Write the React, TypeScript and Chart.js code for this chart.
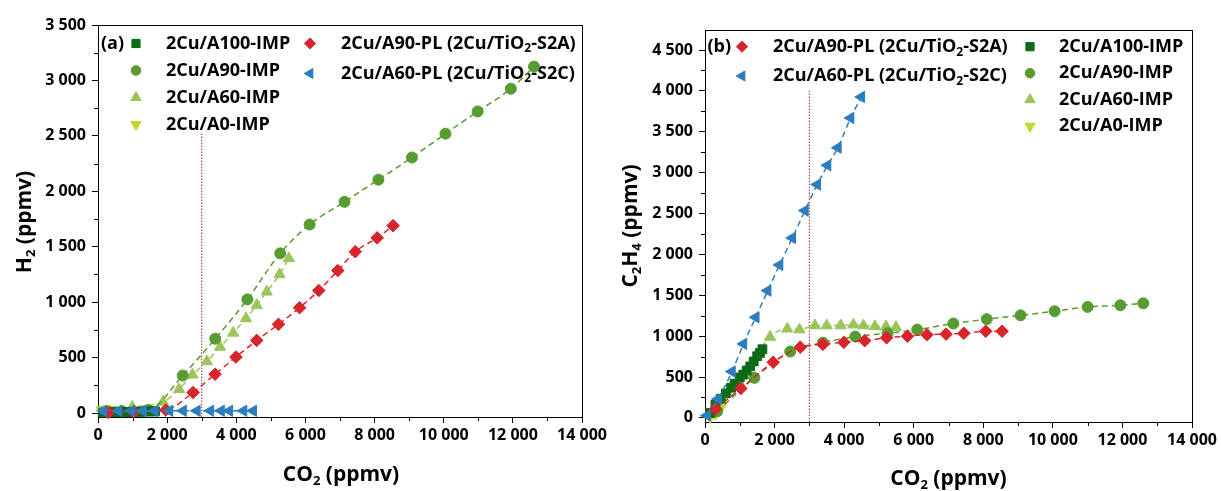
import React, { useEffect, useRef } from 'react';
import { Chart, registerables } from 'chart.js';
import { drawPoint } from 'chart.js/helpers';

Chart.register(...registerables);

// ---------------- data ----------------
const seriesLabels = [
  '2Cu/A100-IMP',
  '2Cu/A90-IMP',
  '2Cu/A60-IMP',
  '2Cu/A0-IMP',
  '2Cu/A90-PL (2Cu/TiO₂-S2A)',
  '2Cu/A60-PL (2Cu/TiO₂-S2C)',
];

const xTickValues = [0, 2000, 4000, 6000, 8000, 10000, 12000, 14000];
const h2TickValues = [0, 500, 1000, 1500, 2000, 2500, 3000, 3500];
const c2h4TickValues = [0, 500, 1000, 1500, 2000, 2500, 3000, 3500, 4000, 4500];

const xTitle = 'CO₂ (ppmv)';
const h2Title = 'H₂ (ppmv)';
const c2h4Title = 'C₂H₄ (ppmv)';
const cutoffCO2 = 3000;
const h2CutoffTop = 2520;
const c2h4CutoffTop = 4000;

// panel (a): H2 vs CO2
const a100X_H2 = [150, 300, 450, 600, 750, 900, 1000, 1100, 1200, 1300, 1400, 1500, 1580, 1650];
const a100Y_H2 = [5, 5, 8, 8, 10, 10, 10, 12, 12, 12, 15, 15, 15, 15];
const a90X_H2 = [300, 700, 1450, 2450, 3390, 4320, 5270, 6120, 7130, 8110, 9080, 10050, 10980, 11940, 12610];
const a90Y_H2 = [10, 15, 27, 338, 670, 1025, 1440, 1700, 1905, 2105, 2305, 2520, 2720, 2925, 3125];
const a60X_H2 = [300, 990, 1880, 2345, 2730, 3150, 3530, 3910, 4280, 4590, 4880, 5250, 5520];
const a60Y_H2 = [15, 55, 100, 215, 345, 465, 595, 722, 852, 973, 1093, 1250, 1395];
const a0X_H2 = [100, 250, 400];
const a0Y_H2 = [30, 35, 30];
const plA90X_H2 = [300, 1030, 1960, 2750, 3385, 3990, 4590, 5220, 5830, 6385, 6935, 7440, 8075, 8535];
const plA90Y_H2 = [5, 10, 27, 185, 350, 505, 655, 800, 950, 1105, 1285, 1455, 1580, 1690];
const plA60X_H2 = [150, 590, 970, 1300, 1640, 2070, 2460, 2860, 3250, 3560, 3800, 4210, 4490];
const plA60Y_H2 = [20, 20, 20, 20, 20, 20, 20, 20, 20, 20, 20, 20, 20];

// panel (b): C2H4 vs CO2
const a100X_C2H4 = [150, 300, 450, 600, 750, 850, 1000, 1100, 1200, 1300, 1400, 1500, 1580, 1650];
const a100Y_C2H4 = [60, 160, 235, 300, 370, 420, 495, 530, 580, 630, 690, 755, 795, 840];
const a90X_C2H4 = [350, 1420, 2450, 3390, 4320, 5250, 6100, 7140, 8100, 9070, 10050, 11000, 11940, 12600];
const a90Y_C2H4 = [80, 490, 812, 920, 995, 1035, 1080, 1155, 1208, 1255, 1305, 1358, 1378, 1402];
const a60X_C2H4 = [300, 990, 1870, 2365, 2715, 3160, 3500, 3900, 4265, 4555, 4885, 5205, 5490];
const a60Y_C2H4 = [70, 430, 990, 1090, 1080, 1130, 1130, 1130, 1140, 1130, 1120, 1118, 1110];
const a0X_C2H4 = [150, 300, 450];
const a0Y_C2H4 = [10, 50, 120];
const plA90X_C2H4 = [300, 1030, 1960, 2740, 3390, 3990, 4590, 5220, 5820, 6380, 6930, 7440, 8070, 8540];
const plA90Y_C2H4 = [110, 360, 680, 865, 900, 925, 945, 980, 1000, 1018, 1025, 1035, 1060, 1060];
const plA60X_C2H4 = [60, 376, 775, 1106, 1459, 1802, 2144, 2509, 2873, 3227, 3523, 3820, 4185, 4493];
const plA60Y_C2H4 = [30, 232, 567, 905, 1231, 1557, 1871, 2201, 2536, 2854, 3090, 3306, 3669, 3926];

// ---------------- styles ----------------
const FONT = '"Open Sans", "DejaVu Sans", sans-serif';
const TICK_SIZE = 16;
const LEGEND_SIZE = 18;
const TITLE_SIZE = 21;
const seriesColors = ['#0c6b14', '#579b31', '#9dc45c', '#c6d631', '#d8242b', '#2b7dc0'];
const seriesStyles = [
  { pointStyle: 'rect', rotation: 0, radius: 6.2, legendRadius: 5.8, order: 3 },
  { pointStyle: 'circle', rotation: 0, radius: 5.5, legendRadius: 4.8, order: 4 },
  { pointStyle: 'triangle', rotation: 0, radius: 6.5, legendRadius: 6, order: 5 },
  { pointStyle: 'triangle', rotation: 180, radius: 6.5, legendRadius: 6, order: 6 },
  { pointStyle: 'rectRot', rotation: 0, radius: 6.3, legendRadius: 5.6, order: 2 },
  { pointStyle: 'triangle', rotation: -90, radius: 6.5, legendRadius: 5.8, order: 1 },
];

const fmt = (v: number) => {
  if (Math.abs(v) < 1000) return String(v);
  const th = Math.floor(v / 1000);
  const rest = v % 1000;
  return `${th} ${String(rest).padStart(3, '0')}`;
};

type Part = { t: string; sub: boolean };
function splitRich(s: string): Part[] {
  const parts: Part[] = [];
  for (const ch of s) {
    const sub = ch === '₂' || ch === '₄';
    const t = ch === '₂' ? '2' : ch === '₄' ? '4' : ch;
    const last = parts[parts.length - 1];
    if (last && last.sub === sub) last.t += t;
    else parts.push({ t, sub });
  }
  return parts;
}

function drawRich(ctx: CanvasRenderingContext2D, s: string, x: number, y: number, size: number, align: 'left' | 'center') {
  const parts = splitRich(s);
  const fN = `bold ${size}px ${FONT}`;
  const fS = `bold ${Math.round(size * 0.64)}px ${FONT}`;
  let total = 0;
  const widths = parts.map((p) => {
    ctx.font = p.sub ? fS : fN;
    const w = ctx.measureText(p.t).width;
    total += w;
    return w;
  });
  let cx = align === 'center' ? x - total / 2 : x;
  ctx.textBaseline = 'middle';
  ctx.textAlign = 'left';
  parts.forEach((p, i) => {
    ctx.font = p.sub ? fS : fN;
    ctx.fillText(p.t, cx, p.sub ? y + size * 0.3 : y);
    cx += widths[i];
  });
}

type LegendItem = { s: number; mx: number; tx: number; y: number };
type Panel = {
  xs: number[][];
  ys: number[][];
  yMin: number;
  yMax: number;
  yTicks: number[];
  cutoffTop: number;
  yTitle: string;
  tag: string;
  pad: { top: number; right: number };
  yWidth: number;
  xHeight: number;
  yTitlePos: [number, number];
  xTitlePos: [number, number];
  tagPos: [number, number];
  legend: LegendItem[];
};

const panelA: Panel = {
  xs: [a100X_H2, a90X_H2, a60X_H2, a0X_H2, plA90X_H2, plA60X_H2],
  ys: [a100Y_H2, a90Y_H2, a60Y_H2, a0Y_H2, plA90Y_H2, plA60Y_H2],
  yMin: -36,
  yMax: 3500,
  yTicks: h2TickValues,
  cutoffTop: h2CutoffTop,
  yTitle: h2Title,
  tag: '(a)',
  pad: { top: 25, right: 26 },
  yWidth: 98,
  xHeight: 74,
  yTitlePos: [25, 222],
  xTitlePos: [341, 475],
  tagPos: [101, 43.5],
  legend: [
    { s: 0, mx: 136, tx: 166, y: 43.5 },
    { s: 1, mx: 136, tx: 166, y: 70.5 },
    { s: 2, mx: 136, tx: 166, y: 97.5 },
    { s: 3, mx: 136, tx: 166, y: 124.5 },
    { s: 4, mx: 310, tx: 341, y: 43.5 },
    { s: 5, mx: 310, tx: 341, y: 73.5 },
  ],
};

const panelB: Panel = {
  xs: [a100X_C2H4, a90X_C2H4, a60X_C2H4, a0X_C2H4, plA90X_C2H4, plA60X_C2H4],
  ys: [a100Y_C2H4, a90Y_C2H4, a60Y_C2H4, a0Y_C2H4, plA90Y_C2H4, plA60Y_C2H4],
  yMin: -50,
  yMax: 4745,
  yTicks: c2h4TickValues,
  cutoffTop: c2h4CutoffTop,
  yTitle: c2h4Title,
  tag: '(b)',
  pad: { top: 30, right: 29 },
  yWidth: 95,
  xHeight: 69,
  yTitlePos: [21, 226],
  xTitlePos: [338.5, 479],
  tagPos: [97.5, 46.7],
  legend: [
    { s: 4, mx: 132, tx: 163, y: 46.7 },
    { s: 5, mx: 132, tx: 163, y: 76 },
    { s: 0, mx: 420, tx: 449, y: 46.7 },
    { s: 1, mx: 420, tx: 449, y: 73.2 },
    { s: 2, mx: 420, tx: 449, y: 99.7 },
    { s: 3, mx: 420, tx: 449, y: 126.2 },
  ],
};

function makeChart(canvas: HTMLCanvasElement, p: Panel) {
  const datasets: any[] = p.xs.map((xs, i) => ({
    label: seriesLabels[i],
    data: xs.map((x, j) => ({ x, y: p.ys[i][j] })),
    borderColor: seriesColors[i],
    backgroundColor: seriesColors[i],
    pointBackgroundColor: seriesColors[i],
    pointBorderColor: seriesColors[i],
    pointBorderWidth: 1,
    pointStyle: seriesStyles[i].pointStyle,
    pointRotation: seriesStyles[i].rotation,
    pointRadius: seriesStyles[i].radius,
    pointHoverRadius: seriesStyles[i].radius,
    borderWidth: 1.5,
    borderDash: [6, 4],
    showLine: true,
    cubicInterpolationMode: 'monotone',
    clip: false,
    order: seriesStyles[i].order,
  }));
  datasets.push({
    label: 'cutoff',
    data: [
      { x: cutoffCO2, y: p.yMin },
      { x: cutoffCO2, y: p.cutoffTop },
    ],
    borderColor: '#b22a22',
    borderWidth: 1,
    borderDash: [1.5, 1.5],
    pointRadius: 0,
    showLine: true,
    order: 20,
  });

  const tickFont = { family: FONT, size: TICK_SIZE, weight: 'bold' as const };

  const decor = {
    id: 'decor',
    beforeDatasetsDraw(chart: any) {
      const { ctx, chartArea: ca } = chart;
      ctx.save();
      ctx.strokeStyle = '#000';
      ctx.lineWidth = 1;
      ctx.strokeRect(Math.round(ca.left) + 0.5, Math.round(ca.top) + 0.5, Math.round(ca.right - ca.left), Math.round(ca.bottom - ca.top));
      const xs = chart.scales.x;
      const ys = chart.scales.y;
      ctx.beginPath();
      for (let i = 0; i < xTickValues.length - 1; i++) {
        const px = Math.round(xs.getPixelForValue((xTickValues[i] + xTickValues[i + 1]) / 2)) + 0.5;
        ctx.moveTo(px, ca.bottom);
        ctx.lineTo(px, ca.bottom + 4);
      }
      for (let i = 0; i < p.yTicks.length - 1; i++) {
        const py = Math.round(ys.getPixelForValue((p.yTicks[i] + p.yTicks[i + 1]) / 2)) + 0.5;
        ctx.moveTo(ca.left, py);
        ctx.lineTo(ca.left - 4, py);
      }
      ctx.stroke();
      ctx.fillStyle = '#000';
      drawRich(ctx, xTitle, p.xTitlePos[0], p.xTitlePos[1], TITLE_SIZE, 'center');
      ctx.save();
      ctx.translate(p.yTitlePos[0], p.yTitlePos[1]);
      ctx.rotate(-Math.PI / 2);
      drawRich(ctx, p.yTitle, 0, 0, TITLE_SIZE, 'center');
      ctx.restore();
      drawRich(ctx, p.tag, p.tagPos[0], p.tagPos[1], LEGEND_SIZE, 'left');
      p.legend.forEach((it) => {
        const st = seriesStyles[it.s];
        ctx.fillStyle = seriesColors[it.s];
        ctx.strokeStyle = seriesColors[it.s];
        ctx.lineWidth = 1;
        ctx.setLineDash([]);
        drawPoint(ctx, { pointStyle: st.pointStyle as any, rotation: st.rotation, radius: st.legendRadius, borderWidth: 1 }, it.mx, it.y);
        ctx.fillStyle = '#000';
        drawRich(ctx, seriesLabels[it.s], it.tx, it.y, LEGEND_SIZE, 'left');
      });
      ctx.restore();
    },
  };

  return new Chart(canvas, {
    type: 'line',
    data: { datasets },
    plugins: [decor],
    options: {
      animation: false,
      responsive: false,
      devicePixelRatio: 1,
      events: [],
      layout: { padding: { left: 0, top: p.pad.top, right: p.pad.right, bottom: 0 } },
      plugins: { legend: { display: false }, tooltip: { enabled: false }, title: { display: false } },
      scales: {
        x: {
          type: 'linear',
          min: 0,
          max: 14000,
          afterBuildTicks: (s: any) => {
            s.ticks = xTickValues.map((v) => ({ value: v }));
          },
          afterFit: (s: any) => {
            s.height = p.xHeight;
          },
          ticks: { callback: (v: any) => fmt(Number(v)), font: tickFont, color: '#000', padding: 3, autoSkip: false, maxRotation: 0 },
          grid: { display: true, drawOnChartArea: false, drawTicks: true, tickLength: 6, tickColor: '#000', tickWidth: 1 },
          border: { display: false },
        },
        y: {
          type: 'linear',
          min: p.yMin,
          max: p.yMax,
          afterBuildTicks: (s: any) => {
            s.ticks = p.yTicks.map((v) => ({ value: v }));
          },
          afterFit: (s: any) => {
            s.width = p.yWidth;
          },
          ticks: { callback: (v: any) => fmt(Number(v)), font: tickFont, color: '#000', padding: 6, autoSkip: false },
          grid: { display: true, drawOnChartArea: false, drawTicks: true, tickLength: 6, tickColor: '#000', tickWidth: 1 },
          border: { display: false },
        },
      },
    } as any,
  });
}

export default function App() {
  const leftRef = useRef<HTMLCanvasElement>(null);
  const rightRef = useRef<HTMLCanvasElement>(null);

  useEffect(() => {
    const c1 = makeChart(leftRef.current!, panelA);
    const c2 = makeChart(rightRef.current!, panelB);
    return () => {
      c1.destroy();
      c2.destroy();
    };
  }, []);

  return (
    <div style={{ position: 'absolute', left: 0, top: 0, width: 1221, height: 491, background: '#fff' }}>
      <div style={{ position: 'absolute', left: 0, top: 0, width: 610, height: 491 }}>
        <canvas ref={leftRef} width={610} height={491} style={{ width: 610, height: 491, display: 'block' }} />
      </div>
      <div style={{ position: 'absolute', left: 610, top: 0, width: 611, height: 491 }}>
        <canvas ref={rightRef} width={611} height={491} style={{ width: 611, height: 491, display: 'block' }} />
      </div>
    </div>
  );
}
